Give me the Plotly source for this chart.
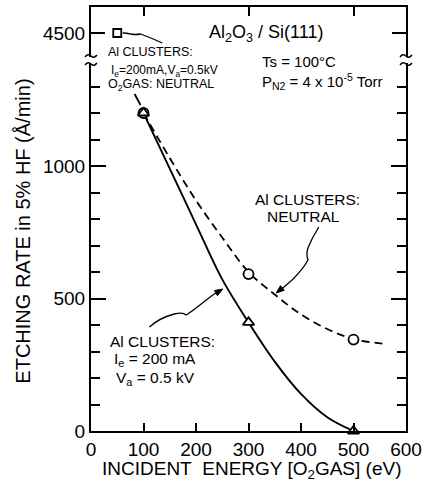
import plotly.graph_objects as go

# ---- data ----
energy_pts = [100, 300, 500]
rate_ion = [1200, 410, 0]          # triangles: Al clusters Ie=200mA, Va=0.5kV
rate_neutral = [1200, 592, 345]    # circles: Al clusters neutral
sq_energy = [50]
sq_rate = [4500]                   # square: Al clusters ionized, O2 neutral

curve_ion_x = [100, 150, 200, 250, 300, 350, 400, 450, 500]
curve_ion_y = [1200, 990, 780, 572, 410, 262, 140, 52, 0]
curve_neu_x = [100, 150, 200, 250, 300, 350, 400, 450, 500, 555]
curve_neu_y = [1200, 1030, 870, 730, 600, 515, 440, 385, 347, 330]

x_ticks = [0, 100, 200, 300, 400, 500, 600]
y_ticks = [0, 500, 1000]
y_top_ticks = [4500]

# ---- geometry (pixels) ----
W, H = 429, 489
L, R, T, B = 91, 409, 7, 431
BRK = 60


def px(x):
    return (x - L) / (R - L)


def py(y):
    return (B - y) / (B - T)


FONT = "Liberation Sans, Arial, sans-serif"

fig = go.Figure()

fig.add_trace(go.Scatter(x=curve_neu_x, y=curve_neu_y, mode="lines", line_shape="spline",
                         line=dict(color="black", width=1.8, dash="8px,5px"),
                         xaxis="x", yaxis="y", hoverinfo="skip"))
fig.add_trace(go.Scatter(x=curve_ion_x, y=curve_ion_y, mode="lines", line_shape="spline",
                         line=dict(color="black", width=1.9),
                         xaxis="x", yaxis="y", hoverinfo="skip"))
fig.add_trace(go.Scatter(x=energy_pts, y=rate_neutral, mode="markers",
                         marker=dict(symbol="circle", size=10, color="white",
                                     line=dict(color="black", width=1.8)),
                         cliponaxis=False, xaxis="x", yaxis="y"))
fig.add_trace(go.Scatter(x=energy_pts, y=rate_ion, mode="markers",
                         marker=dict(symbol="triangle-up", size=10, color="white",
                                     line=dict(color="black", width=1.8)),
                         cliponaxis=False, xaxis="x", yaxis="y"))
fig.add_trace(go.Scatter(x=sq_energy, y=sq_rate, mode="markers",
                         marker=dict(symbol="square", size=8, color="white",
                                     line=dict(color="black", width=1.8)),
                         cliponaxis=False, xaxis="x2", yaxis="y2"))

ydom = py(BRK)
tickfont = dict(family=FONT, size=19, color="black")

fig.update_layout(
    width=W, height=H, showlegend=False,
    margin=dict(l=L, r=W - R, t=T, b=H - B, pad=0),
    paper_bgcolor="white", plot_bgcolor="white",
    xaxis=dict(domain=[0, 1], range=[0, 600], anchor="y", side="bottom",
               showline=True, linecolor="black", linewidth=2, mirror=False,
               ticks="inside", ticklen=8, tickwidth=1.5, tickcolor="black",
               tickvals=x_ticks, ticktext=[str(v) for v in x_ticks],
               tickfont=tickfont, showgrid=False, zeroline=False),
    xaxis2=dict(domain=[0, 1], range=[0, 600], anchor="y2", side="top",
                showline=True, linecolor="black", linewidth=2, mirror=False,
                ticks="inside", ticklen=9, tickwidth=1.5, tickcolor="black",
                tickvals=[100, 300, 500], showticklabels=False,
                showgrid=False, zeroline=False),
    yaxis=dict(domain=[0, ydom], range=[0, (B - BRK) / 0.265], anchor="x",
               showline=True, linecolor="black", linewidth=2, mirror="ticks",
               ticks="inside", ticklen=15, tickwidth=1.5, tickcolor="black",
               tickvals=y_ticks, ticktext=[str(v) for v in y_ticks],
               tickfont=tickfont, showgrid=False, zeroline=False,
               minor=dict(dtick=100, tick0=0, ticks="inside", ticklen=9,
                          tickwidth=1.5, tickcolor="black", showgrid=False)),
    yaxis2=dict(domain=[ydom, 1], range=[4500 - (BRK - 33) / 0.265, 4500 + (33 - T) / 0.265],
                anchor="x2",
                showline=True, linecolor="black", linewidth=2, mirror="ticks",
                ticks="inside", ticklen=14, tickwidth=1.5, tickcolor="black",
                tickvals=y_top_ticks, ticktext=[str(v) for v in y_top_ticks],
                tickfont=tickfont, showgrid=False, zeroline=False),
)

shapes = []
# axis break symbols on both sides
for ax_x in (L, R):
    shapes.append(dict(type="rect", xref="paper", yref="paper",
                       x0=px(ax_x - 3), x1=px(ax_x + 3), y0=py(BRK + 3), y1=py(BRK - 3),
                       fillcolor="white", line=dict(width=0), layer="above"))
    for yy in (BRK - 4, BRK + 4):
        path = (f"M {px(ax_x - 6)},{py(yy + 1)} Q {px(ax_x - 3)},{py(yy - 3)} {px(ax_x)},{py(yy)} "
                f"T {px(ax_x + 6)},{py(yy - 1)}")
        shapes.append(dict(type="path", xref="paper", yref="paper", path=path,
                           line=dict(color="black", width=1.5), layer="above"))


def poly(points, width=1.3, fill=None):
    d = "M " + " L ".join(f"{px(a)},{py(b)}" for a, b in points)
    if fill:
        d += " Z"
    return dict(type="path", xref="paper", yref="paper", path=d, fillcolor=fill,
                line=dict(color="black", width=width), layer="above")


def spline(points, width=1.3):
    d = f"M {px(points[0][0])},{py(points[0][1])}"
    for i in range(1, len(points) - 1, 2):
        d += f" Q {px(points[i][0])},{py(points[i][1])} {px(points[i+1][0])},{py(points[i+1][1])}"
    return dict(type="path", xref="paper", yref="paper", path=d,
                line=dict(color="black", width=width), layer="above")


def head(tip, tail, length=8, half=3):
    dx, dy = tip[0] - tail[0], tip[1] - tail[1]
    n = (dx * dx + dy * dy) ** 0.5
    ux, uy = dx / n, dy / n
    bx, by = tip[0] - ux * length, tip[1] - uy * length
    p1 = (bx - uy * half, by + ux * half)
    p2 = (bx + uy * half, by - ux * half)
    return poly([tip, p1, p2], 1, "black")


# leader from square to its label
shapes.append(spline([(123, 33), (127, 33), (131, 34), (136, 35), (141, 34), (152, 38), (163, 43)], 1.3))
# leader from small label to the point at 100 eV
shapes.append(poly([(135, 94), (141, 105)], 1.8))
# wavy leader to the dashed (neutral) curve
shapes.append(spline([(321, 227), (314, 238), (310, 248), (308, 254), (310, 260), (306, 268), (294, 280)], 1.3))
shapes.append(poly([(294, 280), (280, 292)], 1.3))
shapes.append(head((278, 293), (294, 280)))
# wavy leader to the solid curve
shapes.append(spline([(150, 327), (160, 318), (175, 314), (184, 312), (187, 315), (192, 312), (201, 305),
                      (206, 301), (214, 295)], 1.3))
shapes.append(poly([(214, 295), (222, 290)], 1.3))
shapes.append(head((224, 289), (214, 295)))
fig.update_layout(shapes=shapes)

ann = []


def text(t, x, y, size, xanchor="left", yanchor="middle", angle=0):
    ann.append(dict(text=t, x=px(x), y=py(y), xref="paper", yref="paper",
                    xanchor=xanchor, yanchor=yanchor, showarrow=False, textangle=angle,
                    font=dict(family=FONT, size=size, color="black")))


text("Al<sub>2</sub>O<sub>3</sub> / Si(111)", 268, 34, 18, "center")
text("Ts = 100°C", 262, 61, 15)
text("P<sub>N2</sub> = 4 x 10<sup>-5</sup> Torr", 262, 81, 15)

text("Al CLUSTERS:", 106, 52, 12.5)
text("I<sub>e</sub>=200mA,V<sub>a</sub>=0.5kV", 109, 71, 12)
text("O<sub>2</sub>GAS: NEUTRAL", 106, 85, 12.5)

text("Al CLUSTERS:", 310, 199, 15.5, "center")
text("NEUTRAL", 306, 216, 15.5, "center")

text("Al CLUSTERS:", 108, 341, 15.5)
text("I<sub>e</sub> = 200 mA", 112, 359, 15.5)
text("V<sub>a</sub> = 0.5 kV", 114, 378, 15.5)

text("INCIDENT\u00a0\u00a0ENERGY [O<sub>2</sub>GAS] (eV)", 254, 470, 19, "center")
text("ETCHING RATE in 5% HF (Å/min)", 22, 231, 20, "center", "middle", -90)

fig.update_layout(annotations=ann)

fig.write_html("out.html")
